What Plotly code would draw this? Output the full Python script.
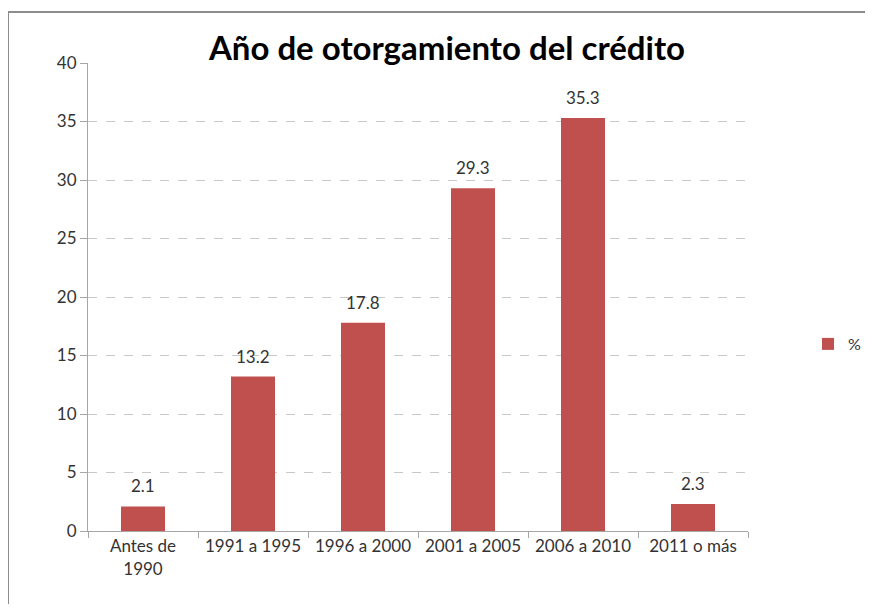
import plotly.graph_objects as go

categories = ["Antes de<br>1990", "1991 a 1995", "1996 a 2000", "2001 a 2005", "2006 a 2010", "2011 o más"]
values = [2.1, 13.2, 17.8, 29.3, 35.3, 2.3]
y_ticks = [0, 5, 10, 15, 20, 25, 30, 35, 40]

# the page body has an 8px margin on every side; shrink the figure to fit
OFF = 8
W, H = 873 - 2 * OFF, 612 - 2 * OFF
L, R, T, B = 88 - OFF, 125 - OFF, 63 - OFF, 81 - OFF
pw, ph = W - L - R, H - T - B


def px_x(x):
    # reference pixel -> paper x
    return (x - OFF - L) / pw


def px_y(y):
    # reference pixel -> paper y
    return (H - B - (y - OFF)) / ph


fig = go.Figure()
fig.add_trace(go.Bar(
    x=categories, y=values, name="%",
    marker=dict(color="#C0504D", line=dict(width=0)),
    width=0.4,
))

# value labels above the bars
for cat, v in zip(categories, values):
    fig.add_annotation(
        x=cat, y=v, text=f"{v:.1f}", showarrow=False,
        yanchor="bottom", yshift=8,
        font=dict(size=17, color="#333333"),
    )

fig.update_layout(
    width=W, height=H,
    margin=dict(l=L, r=R, t=T, b=B, autoexpand=False),
    paper_bgcolor="white", plot_bgcolor="white",
    font=dict(family="Lato", size=16, color="#333333"),
    title=dict(text="<b>Año de otorgamiento del crédito</b>",
               font=dict(size=33, color="black"),
               x=(447 - OFF) / W, xanchor="center",
               y=1 - (48 - OFF) / H, yanchor="middle"),
    showlegend=True,
    legend=dict(x=px_x(808), xanchor="left", y=px_y(344), yanchor="middle",
                font=dict(size=16), bgcolor="rgba(0,0,0,0)"),
    shapes=[
        dict(type="line", xref="paper", yref="paper",
             x0=px_x(8), x1=px_x(8), y0=px_y(620), y1=px_y(12),
             line=dict(color="#8c8c8c", width=2)),
        dict(type="line", xref="paper", yref="paper",
             x0=px_x(8), x1=px_x(880), y0=px_y(12), y1=px_y(12),
             line=dict(color="#8c8c8c", width=2)),
    ],
)

fig.update_xaxes(
    showgrid=False, showline=True, linecolor="#a6a6a6", linewidth=1,
    ticks="outside", tickson="boundaries", ticklen=6, tickcolor="#a6a6a6",
    tickfont=dict(size=17, color="#333333"),
)
fig.update_yaxes(
    range=[0, 40], tickvals=y_ticks, showgrid=True, gridcolor="#c8c8c8",
    griddash="dash", gridwidth=1, zeroline=False,
    showline=True, linecolor="#a6a6a6", linewidth=1,
    ticks="outside", ticklen=7, tickcolor="#a6a6a6",
    tickfont=dict(size=17, color="#333333"),
)

fig.write_html("out.html")
